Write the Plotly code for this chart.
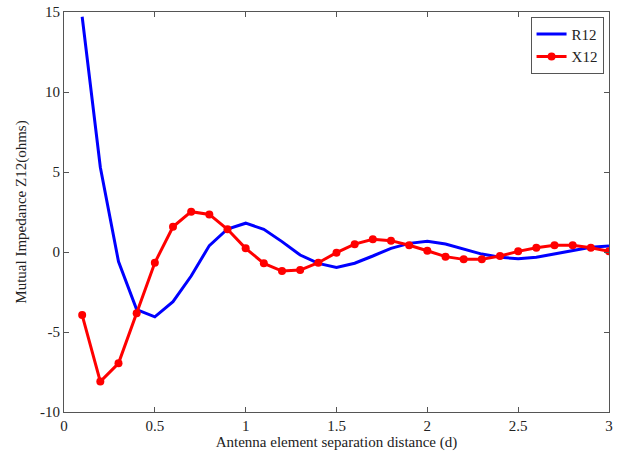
import plotly.graph_objects as go

d = [0.1, 0.2, 0.3, 0.4, 0.5, 0.6, 0.7, 0.8, 0.9, 1.0,
     1.1, 1.2, 1.3, 1.4, 1.5, 1.6, 1.7, 1.8, 1.9, 2.0,
     2.1, 2.2, 2.3, 2.4, 2.5, 2.6, 2.7, 2.8, 2.9, 3.0]
r12 = [14.7, 5.3, -0.6, -3.6, -4.05, -3.1, -1.5, 0.4, 1.44, 1.8,
       1.42, 0.65, -0.19, -0.71, -0.96, -0.7, -0.25, 0.23, 0.54, 0.67,
       0.5, 0.17, -0.13, -0.33, -0.42, -0.33, -0.12, 0.12, 0.29, 0.37]
x12 = [-3.94, -8.1, -6.96, -3.83, -0.67, 1.58, 2.52, 2.35, 1.42, 0.23,
       -0.71, -1.19, -1.13, -0.67, -0.04, 0.49, 0.79, 0.71, 0.42, 0.08,
       -0.29, -0.46, -0.46, -0.25, 0.04, 0.27, 0.42, 0.42, 0.27, 0.04]

font = "Liberation Serif"

fig = go.Figure()
fig.add_trace(go.Scatter(x=d, y=r12, mode="lines", name="R12",
                         line=dict(color="#0000ff", width=3)))
fig.add_trace(go.Scatter(x=d, y=x12, mode="lines+markers", name="X12",
                         line=dict(color="#ff0000", width=3),
                         marker=dict(color="#ff0000", size=8)))

axis_common = dict(showgrid=False, zeroline=False, showline=True, mirror="ticks",
                   linecolor="#555555", linewidth=1, ticks="inside", ticklen=5,
                   tickcolor="#555555", automargin=False,
                   tickfont=dict(family=font, size=15, color="#222222"))

fig.update_layout(
    width=622, height=457,
    margin=dict(l=64, r=13, t=12, b=45),
    plot_bgcolor="white", paper_bgcolor="white",
    font=dict(family=font, size=15, color="#222222"),
    xaxis=dict(range=[0, 3], tickvals=[0, 0.5, 1, 1.5, 2, 2.5, 3],
               ticktext=["0", "0.5", "1", "1.5", "2", "2.5", "3"],
               title=dict(text="Antenna element separation distance (d)", standoff=2,
                          font=dict(family=font, size=15)),
               **axis_common),
    yaxis=dict(range=[-10, 15], tickvals=[-10, -5, 0, 5, 10, 15],
               ticktext=["-10", "-5", "0", "5", "10", "15"],
               title=dict(text="Mutual Impedance Z12(ohms)", standoff=9,
                          font=dict(family=font, size=15)),
               **axis_common),
    legend=dict(x=0.99, y=0.988, xanchor="right", yanchor="top",
                bordercolor="#555555", borderwidth=1, bgcolor="white",
                font=dict(family=font, size=15), tracegroupgap=0,
                itemwidth=30),
    showlegend=True,
)

fig.write_html("out.html", config={"displayModeBar": False},
               post_script="document.body.style.margin='0';")
